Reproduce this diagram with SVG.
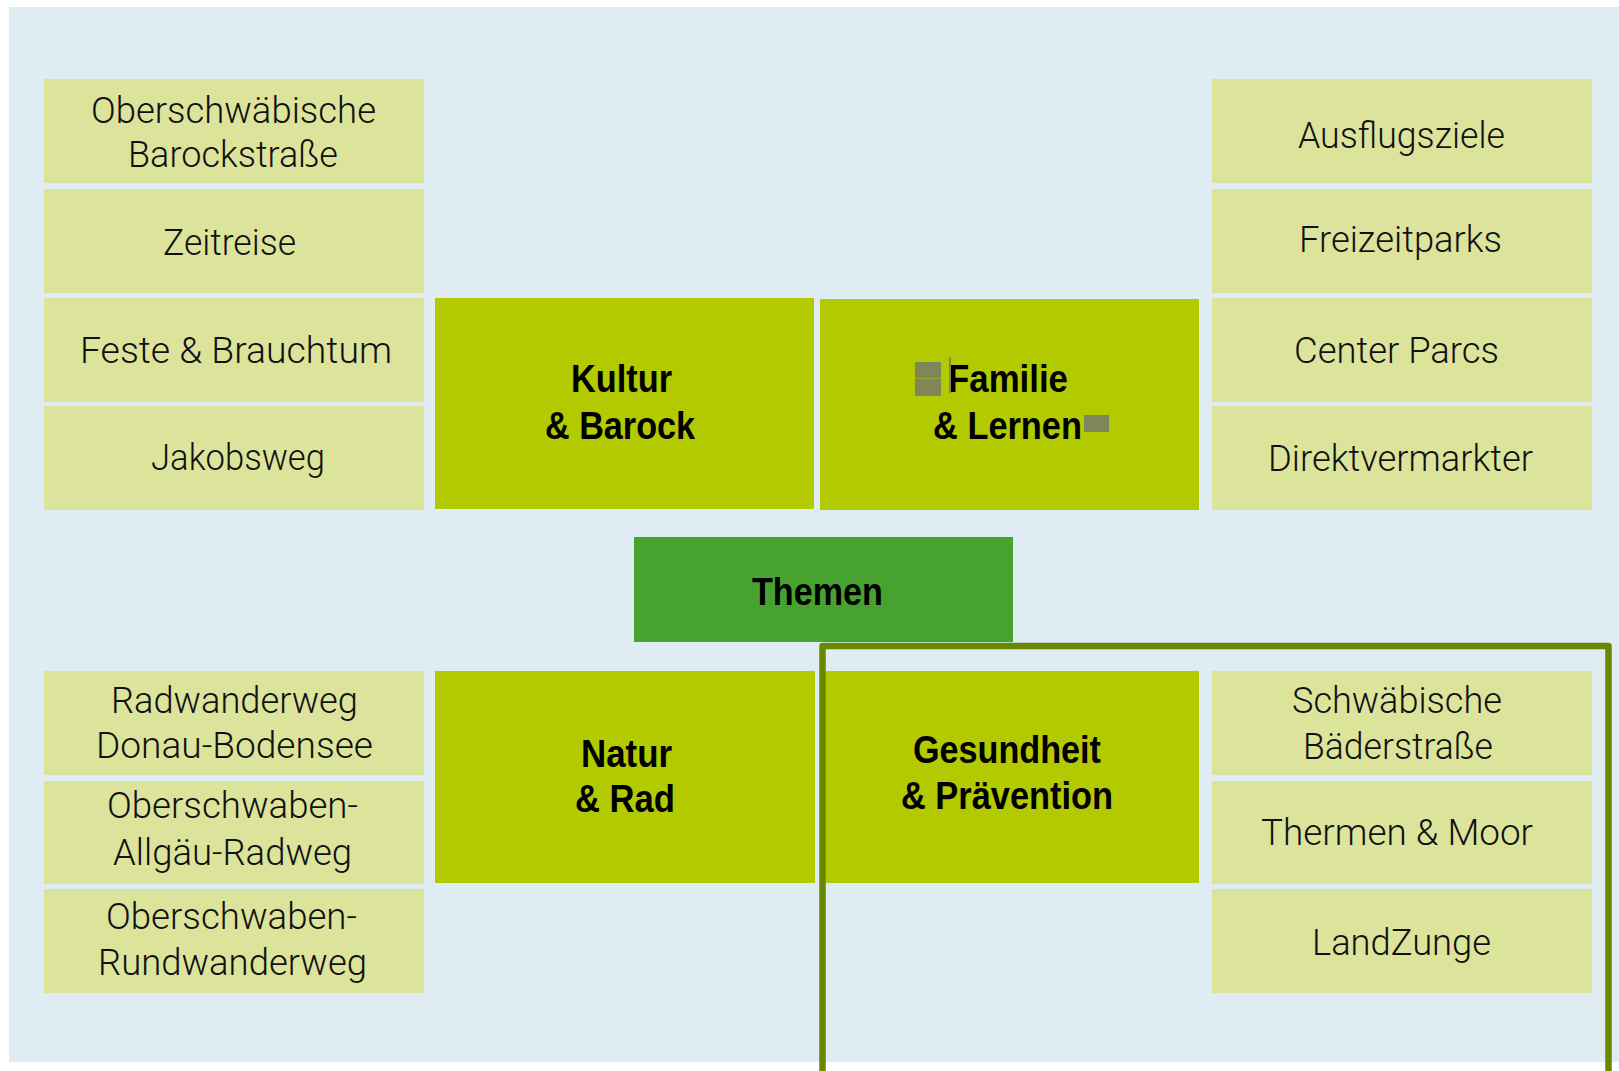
<svg xmlns="http://www.w3.org/2000/svg" width="1619" height="1071" viewBox="0 0 1619 1071">
<style>
.sub{fill:#dce49c}
.main{fill:#b3c900}
.core{fill:#47a22f}
.lt{font-family:Roboto,"Liberation Sans",Arial,sans-serif;font-weight:300;font-size:37px;fill:#111}
.bt{font-family:"Liberation Sans",Arial,sans-serif;font-size:38px;font-weight:bold;fill:#000}
.mark{fill:#7f8659}
</style>
<rect x="0" y="0" width="1619" height="1071" fill="#ffffff"/>
<rect x="9" y="7" width="1610" height="1055" fill="#e0ecf4"/>

<g id="oberschwaebische-barockstrasse"><rect class="sub" x="44" y="79" width="380" height="104"/>
<text class="lt" x="91" y="123" textLength="285" lengthAdjust="spacingAndGlyphs">Oberschwäbische</text>
<text class="lt" x="128" y="167" textLength="210" lengthAdjust="spacingAndGlyphs">Barockstraße</text></g>
<g id="zeitreise"><rect class="sub" x="44" y="189" width="380" height="104"/>
<text class="lt" x="163" y="255" textLength="133" lengthAdjust="spacingAndGlyphs">Zeitreise</text></g>
<g id="feste-brauchtum"><rect class="sub" x="44" y="298" width="380" height="104"/>
<text class="lt" x="80" y="363" textLength="312" lengthAdjust="spacingAndGlyphs">Feste &amp; Brauchtum</text></g>
<g id="jakobsweg"><rect class="sub" x="44" y="406" width="380" height="104"/>
<text class="lt" x="151" y="470" textLength="174" lengthAdjust="spacingAndGlyphs">Jakobsweg</text></g>

<g id="ausflugsziele"><rect class="sub" x="1212" y="79" width="380" height="104"/>
<text class="lt" x="1298" y="148" textLength="207" lengthAdjust="spacingAndGlyphs">Ausflugsziele</text></g>
<g id="freizeitparks"><rect class="sub" x="1212" y="189" width="380" height="104"/>
<text class="lt" x="1299" y="252" textLength="203" lengthAdjust="spacingAndGlyphs">Freizeitparks</text></g>
<g id="center-parcs"><rect class="sub" x="1212" y="298" width="380" height="104"/>
<text class="lt" x="1294" y="363" textLength="205" lengthAdjust="spacingAndGlyphs">Center Parcs</text></g>
<g id="direktvermarkter"><rect class="sub" x="1212" y="406" width="380" height="104"/>
<text class="lt" x="1268" y="471" textLength="265" lengthAdjust="spacingAndGlyphs">Direktvermarkter</text></g>

<g id="kultur-barock"><rect class="main" x="435" y="298" width="379" height="211"/>
<text class="bt" x="571" y="392" textLength="101" lengthAdjust="spacingAndGlyphs">Kultur</text>
<text class="bt" x="545" y="439" textLength="150" lengthAdjust="spacingAndGlyphs">&amp; Barock</text></g>
<g id="familie-lernen"><rect class="main" x="820" y="299" width="379" height="211"/>
<text class="bt" x="948" y="392" textLength="120" lengthAdjust="spacingAndGlyphs">Familie</text>
<text class="bt" x="933" y="439" textLength="149" lengthAdjust="spacingAndGlyphs">&amp; Lernen</text>
<rect class="mark" x="915" y="362" width="26" height="16.5"/>
<rect class="mark" x="915" y="379" width="26" height="17"/>
<rect class="mark" x="949" y="357" width="2" height="36"/>
<rect class="mark" x="1084" y="415" width="25" height="17"/></g>

<g id="themen"><rect class="core" x="634" y="537" width="379" height="105"/>
<text class="bt" x="752" y="605" textLength="131" lengthAdjust="spacingAndGlyphs">Themen</text></g>

<g id="natur-rad"><rect class="main" x="435" y="671" width="380" height="212"/>
<text class="bt" x="581" y="767" textLength="91" lengthAdjust="spacingAndGlyphs">Natur</text>
<text class="bt" x="575" y="812" textLength="100" lengthAdjust="spacingAndGlyphs">&amp; Rad</text></g>
<g id="gesundheit-praevention"><rect class="main" x="820" y="671" width="379" height="212"/>
<text class="bt" x="913" y="763" textLength="188" lengthAdjust="spacingAndGlyphs">Gesundheit</text>
<text class="bt" x="901" y="809" textLength="212" lengthAdjust="spacingAndGlyphs">&amp; Prävention</text></g>

<g id="radwanderweg-donau-bodensee"><rect class="sub" x="44" y="671" width="380" height="104"/>
<text class="lt" x="111" y="713" textLength="247" lengthAdjust="spacingAndGlyphs">Radwanderweg</text>
<text class="lt" x="96" y="758" textLength="277" lengthAdjust="spacingAndGlyphs">Donau-Bodensee</text></g>
<g id="oberschwaben-allgaeu-radweg"><rect class="sub" x="44" y="781" width="380" height="103"/>
<text class="lt" x="107" y="818" textLength="251" lengthAdjust="spacingAndGlyphs">Oberschwaben-</text>
<text class="lt" x="113" y="865" textLength="239" lengthAdjust="spacingAndGlyphs">Allgäu-Radweg</text></g>
<g id="oberschwaben-rundwanderweg"><rect class="sub" x="44" y="889" width="380" height="104"/>
<text class="lt" x="106" y="929" textLength="251" lengthAdjust="spacingAndGlyphs">Oberschwaben-</text>
<text class="lt" x="98" y="975" textLength="269" lengthAdjust="spacingAndGlyphs">Rundwanderweg</text></g>

<g id="schwaebische-baederstrasse"><rect class="sub" x="1212" y="671" width="380" height="104"/>
<text class="lt" x="1292" y="713" textLength="210" lengthAdjust="spacingAndGlyphs">Schwäbische</text>
<text class="lt" x="1303" y="759" textLength="190" lengthAdjust="spacingAndGlyphs">Bäderstraße</text></g>
<g id="thermen-moor"><rect class="sub" x="1212" y="781" width="380" height="103"/>
<text class="lt" x="1261" y="845" textLength="272" lengthAdjust="spacingAndGlyphs">Thermen &amp; Moor</text></g>
<g id="landzunge"><rect class="sub" x="1212" y="889" width="380" height="104"/>
<text class="lt" x="1312" y="955" textLength="179" lengthAdjust="spacingAndGlyphs">LandZunge</text></g>

<g id="connectors">
<path d="M822.5,1071 V646 H1608.5 V1071" fill="none" stroke="#6a8900" stroke-width="6.5" stroke-linejoin="round"/>
</g>
</svg>
